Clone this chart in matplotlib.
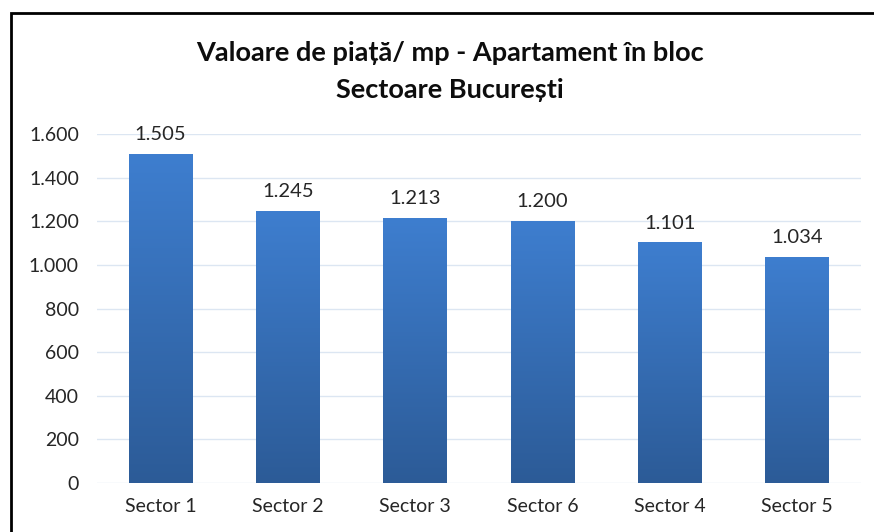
import matplotlib.pyplot as plt
import numpy as np
from matplotlib.colors import LinearSegmentedColormap
from matplotlib.patches import Rectangle

plt.rcParams['font.family'] = ['Lato', 'DejaVu Sans']

# Chart data
sectors = ["Sector 1", "Sector 2", "Sector 3", "Sector 6", "Sector 4", "Sector 5"]
values = [1505, 1245, 1213, 1200, 1101, 1034]
value_labels = ["1.505", "1.245", "1.213", "1.200", "1.101", "1.034"]
y_ticks = [0, 200, 400, 600, 800, 1000, 1200, 1400, 1600]
y_tick_labels = ["0", "200", "400", "600", "800", "1.000", "1.200", "1.400", "1.600"]

fig = plt.figure(figsize=(8.74, 5.32), dpi=100)
ax = fig.add_axes([0.111, 0.092, 0.874, 0.656])

grad = LinearSegmentedColormap.from_list("bar", ["#2c5b97", "#3e7ecf"])
x = np.arange(len(sectors))
bars = ax.bar(x, values, width=0.5, color="none", zorder=2)
for b in bars:
    x0, w, h = b.get_x(), b.get_width(), b.get_height()
    ax.imshow(np.linspace(0, 1, 256).reshape(-1, 1), cmap=grad, origin="lower",
              extent=[x0, x0 + w, 0, h], aspect="auto", zorder=2)

for xi, v, lbl in zip(x, values, value_labels):
    ax.text(xi, v + 52, lbl, ha="center", va="bottom", fontsize=14.5, color="#262626")

ax.set_xlim(-0.5, len(sectors) - 0.5)
ax.set_ylim(0, 1600)
ax.set_xticks(x)
ax.set_xticklabels(sectors, fontsize=14, color="#262626")
ax.set_yticks(y_ticks)
ax.set_yticklabels(y_tick_labels, fontsize=14, color="#262626")
ax.tick_params(length=0)
ax.tick_params(axis="x", pad=11)
ax.tick_params(axis="y", pad=13)
ax.grid(axis="y", color="#dce6f2", linewidth=1, zorder=0)
ax.set_axisbelow(True)
for s in ax.spines.values():
    s.set_visible(False)

fig.text(0.515, 0.901, "Valoare de piață/ mp - Apartament în bloc", ha="center", va="center",
         fontsize=19.5, fontweight="bold", color="#0d0d0d")
fig.text(0.515, 0.830, "Sectoare București", ha="center", va="center",
         fontsize=19.5, fontweight="bold", color="#0d0d0d")

# outer chart border (cropped at right and bottom)
fig.add_artist(Rectangle((11 / 874, -0.05), 1.0, 1 - 13 / 532 + 0.05, transform=fig.transFigure,
                         fill=False, edgecolor="black", linewidth=2))

fig.savefig("out.png", dpi=100)
